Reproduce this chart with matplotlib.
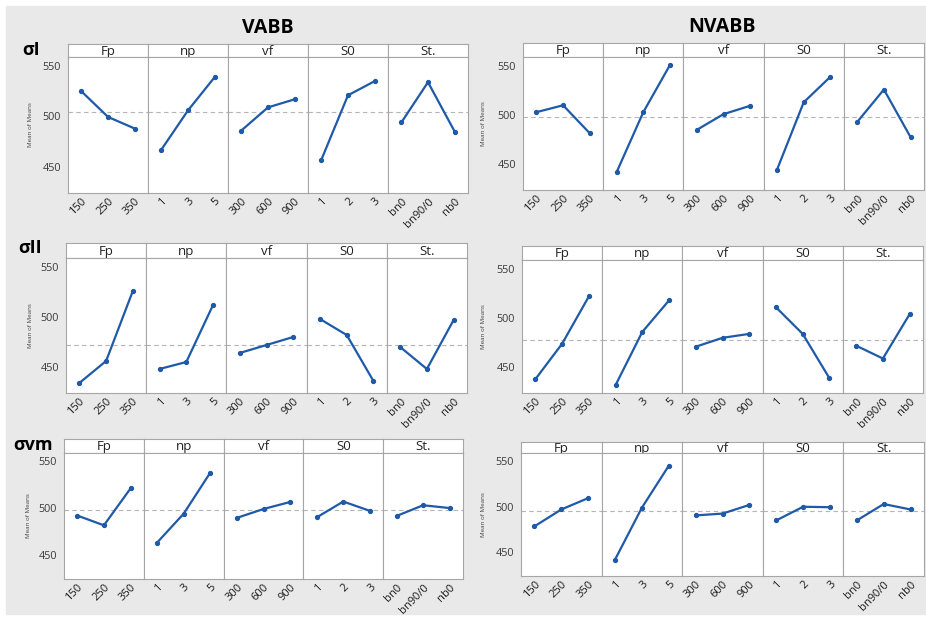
import matplotlib.pyplot as plt
import matplotlib.patches as mpatches
import numpy as np

plt.rcParams['font.family'] = ['Open Sans', 'DejaVu Sans']

# factors and their levels
factors = ['Fp', 'np', 'vf', 'S0', 'St.']
levels = [['150', '250', '350'],
          ['1', '3', '5'],
          ['300', '600', '900'],
          ['1', '2', '3'],
          ['bn0', 'bn90/0', 'nb0']]

# mean of means, one list per factor
vabb_s1 = [[525, 499.5, 488], [467, 506, 539], [486, 509, 517], [457, 521, 535], [494, 534, 485]]
nvabb_s1 = [[503, 510, 481.5], [442, 503, 551], [485, 501, 509.5], [444.5, 513, 539], [493, 526, 477.5]]
vabb_s2 = [[434, 456, 526], [448, 455, 512], [464, 472, 480], [498, 482, 436], [470, 448, 497]]
nvabb_s2 = [[438, 474, 522], [432, 486, 518], [471, 480, 484], [511, 484, 439], [472, 459, 504]]
vabb_svm = [[492, 481.5, 521], [463, 494, 538], [489.5, 499, 506.5], [490, 507, 497], [491.5, 503, 500]]
nvabb_svm = [[478.5, 497, 509.5], [442, 499, 545], [490.5, 492.5, 502], [485, 500, 499.5], [485, 503, 497]]

col_titles = ['VABB', 'NVABB']
row_labels = ['σI', 'σII', 'σvm']

W, H = 926, 619
fig = plt.figure(figsize=(W / 100, H / 100), dpi=100)
fig.patch.set_facecolor('white')
bg = mpatches.Rectangle((6 / W, 1 - 614 / H), 1 - 6 / W, 608 / H,
                        transform=fig.transFigure, color='#e9e9e9', zorder=-10)
fig.patches.append(bg)


def box(l, t, r, b):
    return [l / W, 1 - b / H, (r - l) / W, (b - t) / H]


def draw_panel(data, left, right, strip_top, strip_bot, bottom, label_x):
    w = (right - left) / 5
    grand = np.mean(data[0])
    for i, vals in enumerate(data):
        x0 = left + i * w
        # strip with factor name
        sax = fig.add_axes(box(x0, strip_top, x0 + w, strip_bot))
        sax.set_xticks([])
        sax.set_yticks([])
        for s in sax.spines.values():
            s.set_color('#a6a6a6')
            s.set_linewidth(0.8)
        sax.text(0.5, 0.45, factors[i], ha='center', va='center', fontsize=9.5, color='#222222')

        ax = fig.add_axes(box(x0, strip_bot, x0 + w, bottom))
        x = np.arange(1, 4)
        ax.axhline(grand, color='#b5b5b5', lw=0.8, dashes=(4, 3), zorder=1)
        ax.plot(x, vals, color='#1f5aa8', lw=1.6, marker='o', ms=2.8, zorder=3)
        ax.set_xlim(0.5, 3.5)
        ax.set_ylim(424, 559)
        ax.set_yticks([450, 500, 550])
        ax.set_xticks(x)
        ax.set_xticklabels(levels[i], rotation=45, ha='right', rotation_mode='anchor',
                           fontsize=8, color='#1a1a1a')
        ax.tick_params(axis='x', length=0, pad=2)
        ax.tick_params(axis='y', length=0, pad=5, labelsize=7.8, labelcolor='#3a3a3a')
        if i > 0:
            ax.set_yticklabels([])
        for s in ax.spines.values():
            s.set_color('#a6a6a6')
            s.set_linewidth(0.8)
    fig.text(label_x / W, 1 - (strip_bot + bottom) / 2 / H, 'Mean of Means', rotation=90,
             ha='center', va='center', fontsize=4.5, color='#444444')


# VABB column
draw_panel(vabb_s1, 68, 468, 44, 57, 193, 31)
draw_panel(vabb_s2, 66, 467, 243, 258, 393, 30)
draw_panel(vabb_svm, 64, 463, 439, 453, 579, 28)
# NVABB column
draw_panel(nvabb_s1, 523, 924, 43, 57, 190, 484)
draw_panel(nvabb_s2, 522, 923, 246, 260, 393, 484)
draw_panel(nvabb_svm, 521, 924, 442, 453, 576, 484)

fig.text(268 / W, 1 - 28 / H, col_titles[0], ha='center', va='center', fontsize=14, fontweight='bold')
fig.text(722 / W, 1 - 27 / H, col_titles[1], ha='center', va='center', fontsize=14, fontweight='bold')
fig.text(22 / W, 1 - 50 / H, row_labels[0], ha='left', va='center', fontsize=13, fontweight='bold')
fig.text(18 / W, 1 - 248 / H, row_labels[1], ha='left', va='center', fontsize=13, fontweight='bold')
fig.text(13 / W, 1 - 445 / H, row_labels[2], ha='left', va='center', fontsize=13, fontweight='bold')

fig.savefig('out.png', dpi=100)
